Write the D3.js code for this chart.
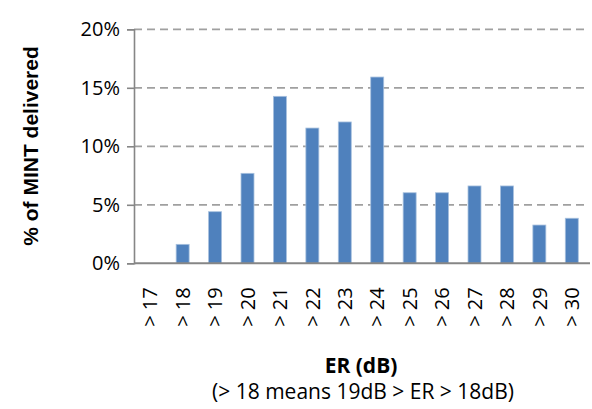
<!DOCTYPE html>
<html>
<head>
<meta charset="utf-8">
<script src="https://cdn.jsdelivr.net/npm/d3@7"></script>
<style>
html,body{margin:0;padding:0;background:#fff;}
svg{display:block;}
</style>
</head>
<body>
<svg id="chart" width="592" height="409"></svg>
<script>
const categories = ["> 17","> 18","> 19","> 20","> 21","> 22","> 23","> 24","> 25","> 26","> 27","> 28","> 29","> 30"];
const values = [0, 1.62, 4.41, 7.69, 14.27, 11.56, 12.08, 15.92, 6.03, 6.03, 6.61, 6.61, 3.27, 3.85];
const yTicks = [0, 5, 10, 15, 20];
const yTitle = "% of MINT delivered";
const xTitle = "ER (dB)";
const xSubtitle = "(> 18 means 19dB > ER > 18dB)";

const svg = d3.select("#chart");
const m = {left:134, right:588, top:29.3, bottom:263.3};
const font = "'Open Sans', sans-serif";

const x = d3.scaleBand().domain(categories).range([m.left, m.right]).paddingInner(0.6).paddingOuter(0.3);
const y = d3.scaleLinear().domain([0,20]).range([m.bottom, m.top]);

// gridlines
svg.append("g").selectAll("line").data(yTicks.filter(d=>d>0)).join("line")
  .attr("x1", m.left).attr("x2", m.right)
  .attr("y1", d=>y(d)).attr("y2", d=>y(d))
  .attr("stroke","#a0a0a0").attr("stroke-width",1.8).attr("stroke-dasharray","8,5");

// bars
svg.append("g").selectAll("rect").data(values.map((v,i)=>({c:categories[i],v}))).join("rect")
  .filter(d=>d.v>0)
  .attr("x", d=>x(d.c)).attr("width", x.bandwidth())
  .attr("y", d=>y(d.v)).attr("height", d=>y(0)-y(d.v))
  .attr("fill","#4f81bd").attr("stroke","#a7c0de").attr("stroke-width",0.8);

// y axis
const yAxis = d3.axisLeft(y).tickValues(yTicks).tickFormat(d=>d+"%").tickSize(7).tickPadding(7);
const gy = svg.append("g").attr("transform",`translate(${m.left},0)`).call(yAxis);
gy.select(".domain").attr("stroke","#868686").attr("stroke-width",1.6);
gy.selectAll(".tick line").attr("stroke","#868686").attr("stroke-width",1.6);
gy.selectAll(".tick text").attr("font-family",font).attr("font-size",20).attr("fill","#000");

// x axis
const xAxis = d3.axisBottom(x).tickSize(0).tickPadding(0);
const gx = svg.append("g").attr("transform",`translate(0,${m.bottom})`).call(xAxis);
gx.select(".domain").attr("stroke","#868686").attr("stroke-width",2)
  .attr("d",`M${m.left},0H${m.right+2}`);
gx.selectAll(".tick text")
  .attr("font-family",font).attr("font-size",20).attr("fill","#000")
  .attr("transform","rotate(-90)")
  .attr("text-anchor","end")
  .attr("x",-24).attr("y",0).attr("dy","0.36em");

// titles
svg.append("text").attr("transform",`translate(30,146) rotate(-90)`)
  .attr("text-anchor","middle").attr("dominant-baseline","central")
  .attr("font-family","'Liberation Sans', Arial, sans-serif")
  .attr("font-weight","bold").attr("font-size",21).text(yTitle);
svg.append("text").attr("x",361).attr("y",373).attr("text-anchor","middle")
  .attr("font-family",font).attr("font-weight","bold").attr("font-size",21).text(xTitle);
svg.append("text").attr("x",363).attr("y",399).attr("text-anchor","middle")
  .attr("font-family",font).attr("font-size",21).text(xSubtitle);
</script>
</body>
</html>
